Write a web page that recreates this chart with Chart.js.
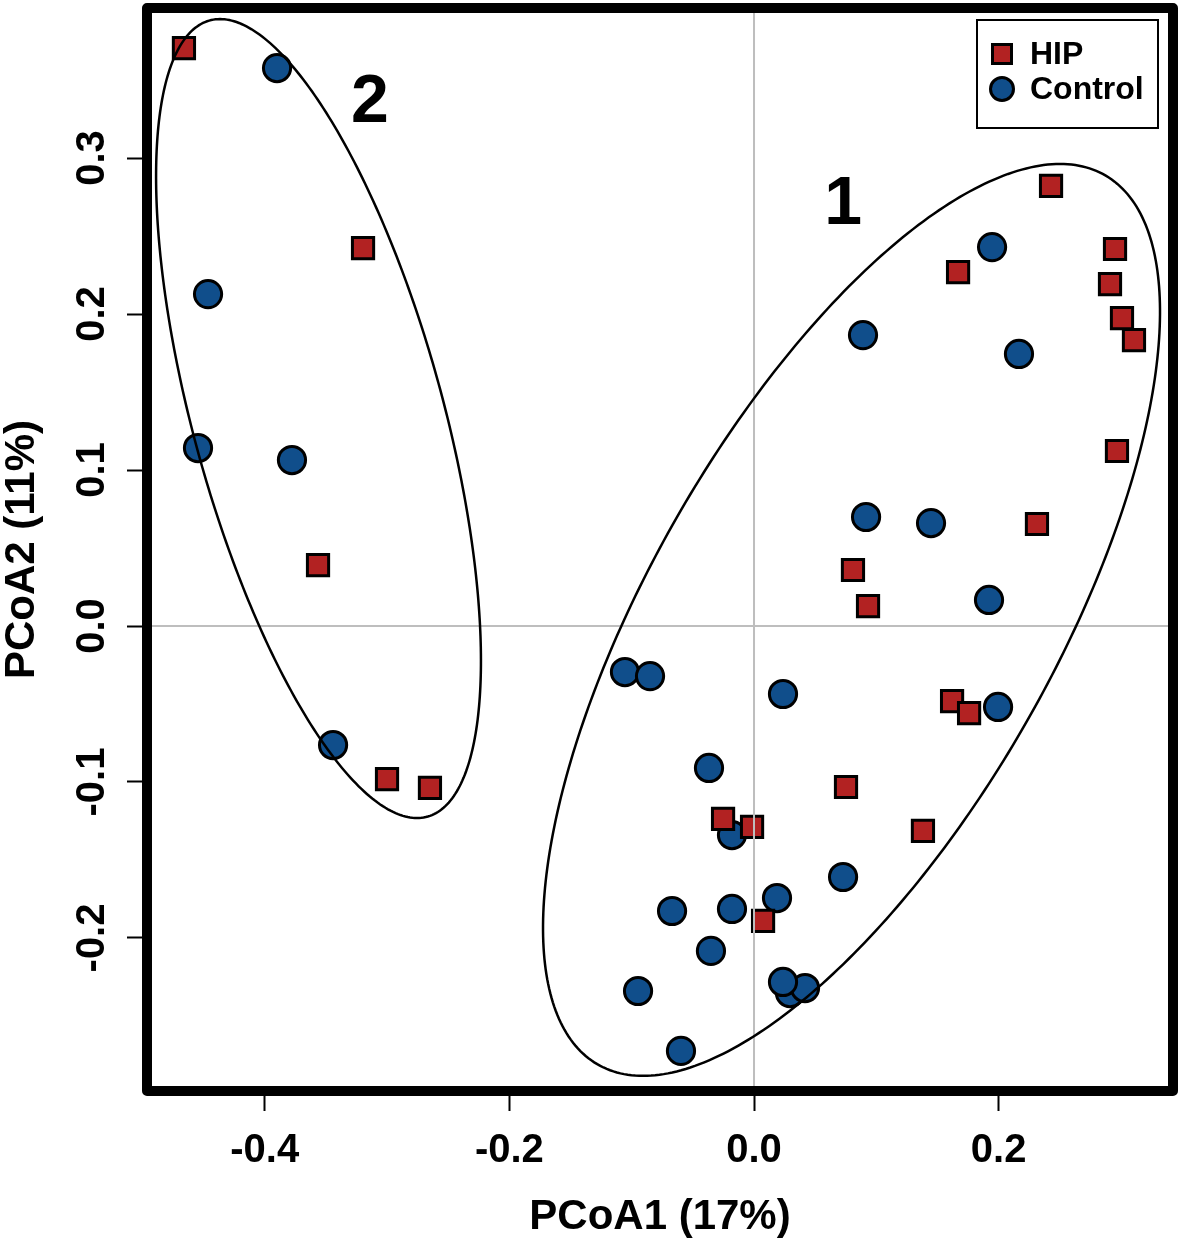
<!DOCTYPE html>
<html>
<head>
<meta charset="utf-8">
<script src="https://cdn.jsdelivr.net/npm/chart.js@4.4.1/dist/chart.umd.min.js"></script>
<style>
html,body{margin:0;padding:0;background:#ffffff;}
#wrap{width:1181px;height:1244px;}
</style>
</head>
<body>
<div id="wrap"><canvas id="c" width="1181" height="1244"></canvas></div>
<script>
// ---------------- data ----------------
const seriesNames = ['HIP', 'Control'];

const hipX = [-0.4660, -0.3196, -0.3564, -0.3000, -0.2649,
  0.2428, 0.1668, 0.2951, 0.2910, 0.3008, 0.3106, 0.2967, 0.2313,
  0.0809, 0.0932, 0.1619, 0.1758, 0.0752, 0.1381, -0.0253, -0.0016, 0.0074];
const hipY = [0.3705, 0.2423, 0.0391, -0.0981, -0.1038,
  0.2821, 0.2269, 0.2417, 0.2192, 0.1974, 0.1833, 0.1122, 0.0654,
  0.0359, 0.0128, -0.0481, -0.0558, -0.1032, -0.1314, -0.1237, -0.1288, -0.1891];

const controlX = [-0.3899, -0.4463, -0.4545, -0.3777, -0.3441,
  0.1946, 0.0891, 0.2166, 0.0916, 0.1447, 0.1921, 0.1995,
  -0.1055, -0.0850, 0.0237, -0.0368, -0.0180, 0.0728, -0.0670, -0.0180,
  0.0188, -0.0352, -0.0948, 0.0294, 0.0417, 0.0237, -0.0597];
const controlY = [0.3577, 0.2128, 0.1141, 0.1064, -0.0763,
  0.2429, 0.1865, 0.1744, 0.0699, 0.0660, 0.0167, -0.0519,
  -0.0295, -0.0321, -0.0436, -0.0910, -0.1340, -0.1609, -0.1827, -0.1814,
  -0.1744, -0.2083, -0.2340, -0.2353, -0.2321, -0.2282, -0.2724];

const xTickValues = [-0.4, -0.2, 0.0, 0.2];
const yTickValues = [-0.2, -0.1, 0.0, 0.1, 0.2, 0.3];
const xRange = [-0.4962, 0.3425];
const yRange = [-0.2981, 0.3962];
const xTitle = 'PCoA1 (17%)';
const yTitle = 'PCoA2 (11%)';

// cluster ellipses: centre and two conjugate semi-diameters (data units)
const ellipseCenterX = [0.0797, -0.3560];
const ellipseCenterY = [0.0039, 0.1330];
const ellipseU = [[0.1704, 0.2923], [-0.0805, 0.2561]];
const ellipseV = [[0.1859, 0.0], [0.1056, 0.0]];

const groupLabels = ['1', '2'];
const groupLabelX = [0.0728, -0.3140];
const groupLabelY = [0.2700, 0.3352];

// ---------------- chart ----------------
const FONT = '"Liberation Sans", Arial, Helvetica, sans-serif';
Chart.defaults.font.family = FONT;
Chart.defaults.color = '#000';

const toPts = (xs, ys) => xs.map((x, i) => ({x: x, y: ys[i]}));
const fmt = v => (Math.abs(v) < 1e-9 ? 0 : v).toFixed(1);

const overlayPlugin = {
  id: 'overlay',
  afterDatasetsDraw(chart) {
    const ctx = chart.ctx;
    const xs = chart.scales.x, ys = chart.scales.y;
    const a = chart.chartArea;
    ctx.save();
    // reference lines at zero
    ctx.strokeStyle = '#bebebe';
    ctx.lineWidth = 2;
    const x0 = xs.getPixelForValue(0), y0 = ys.getPixelForValue(0);
    ctx.beginPath();
    ctx.moveTo(x0, a.top); ctx.lineTo(x0, a.bottom);
    ctx.moveTo(a.left, y0); ctx.lineTo(a.right, y0);
    ctx.stroke();

    // ellipses
    ctx.strokeStyle = '#000';
    ctx.lineWidth = 2.5;
    for (let k = 0; k < ellipseCenterX.length; k++) {
      ctx.beginPath();
      const N = 360;
      for (let i = 0; i <= N; i++) {
        const t = i / N * Math.PI * 2;
        const c = Math.cos(t), s = Math.sin(t);
        const dx = ellipseCenterX[k] + ellipseU[k][0] * c + ellipseV[k][0] * s;
        const dy = ellipseCenterY[k] + ellipseU[k][1] * c + ellipseV[k][1] * s;
        const px = xs.getPixelForValue(dx), py = ys.getPixelForValue(dy);
        if (i === 0) ctx.moveTo(px, py); else ctx.lineTo(px, py);
      }
      ctx.closePath();
      ctx.stroke();
    }

    // cluster numbers
    ctx.fillStyle = '#000';
    ctx.font = 'bold 68px ' + FONT;
    ctx.textAlign = 'center';
    ctx.textBaseline = 'middle';
    for (let k = 0; k < groupLabels.length; k++) {
      ctx.fillText(groupLabels[k], xs.getPixelForValue(groupLabelX[k]), ys.getPixelForValue(groupLabelY[k]));
    }

    // legend
    const bw = 181, bh = 108;
    const bx = a.right - 15 - bw, by = a.top + 12;
    ctx.lineWidth = 2;
    ctx.strokeStyle = '#000';
    ctx.strokeRect(bx, by, bw, bh);
    ctx.font = 'bold 32px ' + FONT;
    ctx.textAlign = 'left';
    chart.data.datasets.forEach((ds, i) => {
      const cy = by + 34 + i * 35;
      const cx = bx + 25;
      ctx.fillStyle = ds.backgroundColor;
      ctx.strokeStyle = ds.borderColor;
      ctx.lineWidth = 3;
      ctx.beginPath();
      if (ds.pointStyle === 'rect') {
        ctx.rect(cx - 9.5, cy - 9.5, 19, 19);
      } else {
        ctx.arc(cx, cy, 11.5, 0, Math.PI * 2);
      }
      ctx.fill();
      ctx.stroke();
      ctx.fillStyle = '#000';
      ctx.fillText(ds.label, bx + 53, cy + 1);
    });

    // frame
    ctx.lineWidth = 10;
    ctx.lineJoin = 'round';
    ctx.strokeStyle = '#000';
    ctx.strokeRect(a.left, a.top, a.right - a.left, a.bottom - a.top);
    ctx.restore();
  }
};

const zeroPad = s => { s.paddingTop = 0; s.paddingBottom = 0; s.paddingLeft = 0; s.paddingRight = 0; };

new Chart(document.getElementById('c'), {
  type: 'scatter',
  data: {
    datasets: [
      {
        label: seriesNames[0],
        data: toPts(hipX, hipY),
        pointStyle: 'rect',
        pointRadius: 15,
        backgroundColor: '#B22222',
        borderColor: '#000000',
        borderWidth: 3
      },
      {
        label: seriesNames[1],
        data: toPts(controlX, controlY),
        pointStyle: 'circle',
        pointRadius: 13.6,
        backgroundColor: '#104E8B',
        borderColor: '#000000',
        borderWidth: 3
      }
    ]
  },
  options: {
    responsive: false,
    animation: false,
    devicePixelRatio: 1,
    events: [],
    layout: {autoPadding: false, padding: {top: 8, right: 8, bottom: 0, left: 0}},
    plugins: {legend: {display: false}, tooltip: {enabled: false}},
    scales: {
      x: {
        type: 'linear',
        position: 'bottom',
        min: xRange[0],
        max: xRange[1],
        afterFit: s => { s.height = 153; zeroPad(s); },
        afterBuildTicks: s => { s.ticks = xTickValues.map(v => ({value: v})); },
        border: {display: false},
        grid: {drawOnChartArea: false, drawTicks: true, tickLength: 20, tickWidth: 2, tickColor: '#000', color: '#000'},
        ticks: {
          autoSkip: false, maxRotation: 0, minRotation: 0, padding: 20, color: '#000',
          font: {size: 40, weight: 'bold', lineHeight: 1},
          callback: v => fmt(v)
        },
        title: {display: true, text: xTitle, color: '#000', font: {size: 42, weight: 'bold', lineHeight: 1}, padding: {top: 0, bottom: 6}}
      },
      y: {
        type: 'linear',
        position: 'left',
        min: yRange[0],
        max: yRange[1],
        afterFit: s => { s.width = 147; zeroPad(s); },
        afterBuildTicks: s => { s.ticks = yTickValues.map(v => ({value: v})); },
        border: {display: false},
        grid: {drawOnChartArea: false, drawTicks: true, tickLength: 20, tickWidth: 2, tickColor: '#000', color: '#000'},
        ticks: {
          autoSkip: false, minRotation: 90, maxRotation: 90, crossAlign: 'center', padding: 0, color: '#000',
          font: {size: 40, weight: 'bold', lineHeight: 1},
          callback: v => fmt(v)
        },
        title: {display: true, text: yTitle, color: '#000', font: {size: 42, weight: 'bold', lineHeight: 1}, padding: {top: 1, bottom: 0}}
      }
    }
  },
  plugins: [overlayPlugin]
});
</script>
</body>
</html>
